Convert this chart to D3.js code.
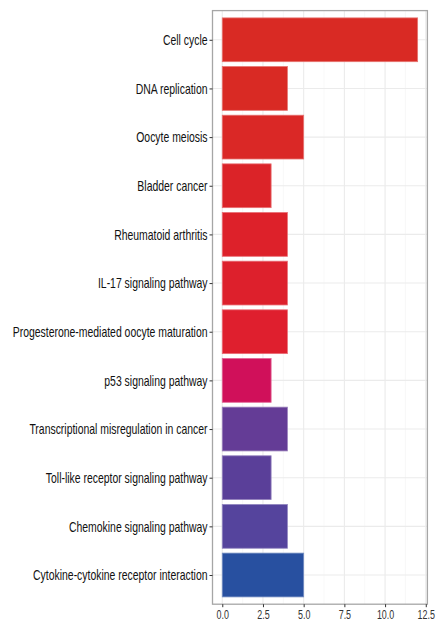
<!DOCTYPE html>
<html>
<head>
<meta charset="utf-8">
<script src="https://cdn.jsdelivr.net/npm/d3@7"></script>
<style>
  html, body { margin: 0; padding: 0; background: #fff; }
  svg { display: block; }
  text { font-family: "Liberation Sans Narrow", "Arial Narrow", "Liberation Sans", Arial, sans-serif; }
</style>
</head>
<body>
<svg id="chart" width="437" height="625"></svg>
<script>
// KEGG pathway enrichment: gene counts per pathway (top to bottom)
const pathways = [
  "Cell cycle",
  "DNA replication",
  "Oocyte meiosis",
  "Bladder cancer",
  "Rheumatoid arthritis",
  "IL-17 signaling pathway",
  "Progesterone-mediated oocyte maturation",
  "p53 signaling pathway",
  "Transcriptional misregulation in cancer",
  "Toll-like receptor signaling pathway",
  "Chemokine signaling pathway",
  "Cytokine-cytokine receptor interaction"
];
const geneCounts = [12, 4, 5, 3, 4, 4, 4, 3, 4, 3, 4, 5];
const xTicks = [0, 2.5, 5, 7.5, 10, 12.5];

// fill per bar (significance gradient, red to blue)
const barFill = [
  "#d92a24", "#d92a24", "#da2826", "#db2328", "#dd212a", "#dd202c",
  "#df1f2e", "#d0105a", "#643c96", "#5a3f99", "#55449d", "#2850a0"
];

const svg = d3.select("#chart");
const panel = { left: 212.5, right: 427.4, top: 10.6, bottom: 604.2 };

// ggplot-style 5% expansion on the continuous axis
const xMax = d3.max(geneCounts);
const x = d3.scaleLinear()
  .domain([-0.05 * xMax, xMax * 1.05])
  .range([panel.left, panel.right]);

// discrete axis: 0.6 band expansion at each end, bars 0.9 wide
const n = pathways.length;
const step = (panel.bottom - panel.top) / (n - 1 + 1.2);
const y = d3.scalePoint()
  .domain(pathways)
  .range([panel.top + 0.6 * step, panel.bottom - 0.6 * step]);
const barH = 0.9 * step;

// panel background grid
const g = svg.append("g");
const minor = d3.range(1.25, 12.6, 2.5);
g.selectAll("line.minor").data(minor).join("line")
  .attr("x1", d => x(d)).attr("x2", d => x(d))
  .attr("y1", panel.top).attr("y2", panel.bottom)
  .attr("stroke", "#f4f4f4").attr("stroke-width", 0.6);
g.selectAll("line.majorx").data(xTicks.filter(d => x(d) < panel.right)).join("line")
  .attr("x1", d => x(d)).attr("x2", d => x(d))
  .attr("y1", panel.top).attr("y2", panel.bottom)
  .attr("stroke", "#ebebeb").attr("stroke-width", 1.1);
g.selectAll("line.majory").data(pathways).join("line")
  .attr("x1", panel.left).attr("x2", panel.right)
  .attr("y1", d => y(d)).attr("y2", d => y(d))
  .attr("stroke", "#ebebeb").attr("stroke-width", 1.1);

// bars
svg.append("g").selectAll("rect").data(pathways).join("rect")
  .attr("x", x(0))
  .attr("y", d => y(d) - barH / 2)
  .attr("width", (d, i) => x(geneCounts[i]) - x(0))
  .attr("height", barH)
  .attr("fill", (d, i) => barFill[i])
  .attr("stroke", (d, i) => d3.interpolateRgb(barFill[i], "#ffffff")(0.35))
  .attr("stroke-width", 0.8);

// panel border
svg.append("rect")
  .attr("x", panel.left).attr("y", panel.top)
  .attr("width", panel.right - panel.left).attr("height", panel.bottom - panel.top)
  .attr("fill", "none").attr("stroke", "#a6a6a6").attr("stroke-width", 1.3);

// axes
const yAxis = d3.axisLeft(y).tickSize(3).tickPadding(2);
const yg = svg.append("g").attr("transform", `translate(${panel.left},0)`).call(yAxis);
yg.select(".domain").remove();
yg.selectAll(".tick line").attr("stroke", "#333");
const yLabels = yg.selectAll(".tick text").attr("font-size", 15).attr("fill", "#111")
  .attr("font-family", null);

// condensed lettering: squeeze labels horizontally so the longest one spans the label column
const labelColumn = 195;
const widest = d3.max(yLabels.nodes(), el => el.getComputedTextLength());
const squeeze = Math.min(1, labelColumn / widest);
yLabels.each(function () {
  const t = d3.select(this);
  const x0 = +t.attr("x");
  t.attr("x", x0 / squeeze).attr("transform", `scale(${squeeze},1)`);
});

const xAxis = d3.axisBottom(x).tickValues(xTicks).tickFormat(d3.format(".1f"))
  .tickSize(3).tickPadding(2);
const xg = svg.append("g").attr("transform", `translate(0,${panel.bottom})`).call(xAxis);
xg.select(".domain").remove();
xg.selectAll(".tick line").attr("stroke", "#333");
xg.selectAll(".tick text").attr("font-size", 13.5).attr("fill", "#333")
  .attr("font-family", null)
  .attr("transform", `scale(${squeeze * 0.95},1)`);
</script>
</body>
</html>
